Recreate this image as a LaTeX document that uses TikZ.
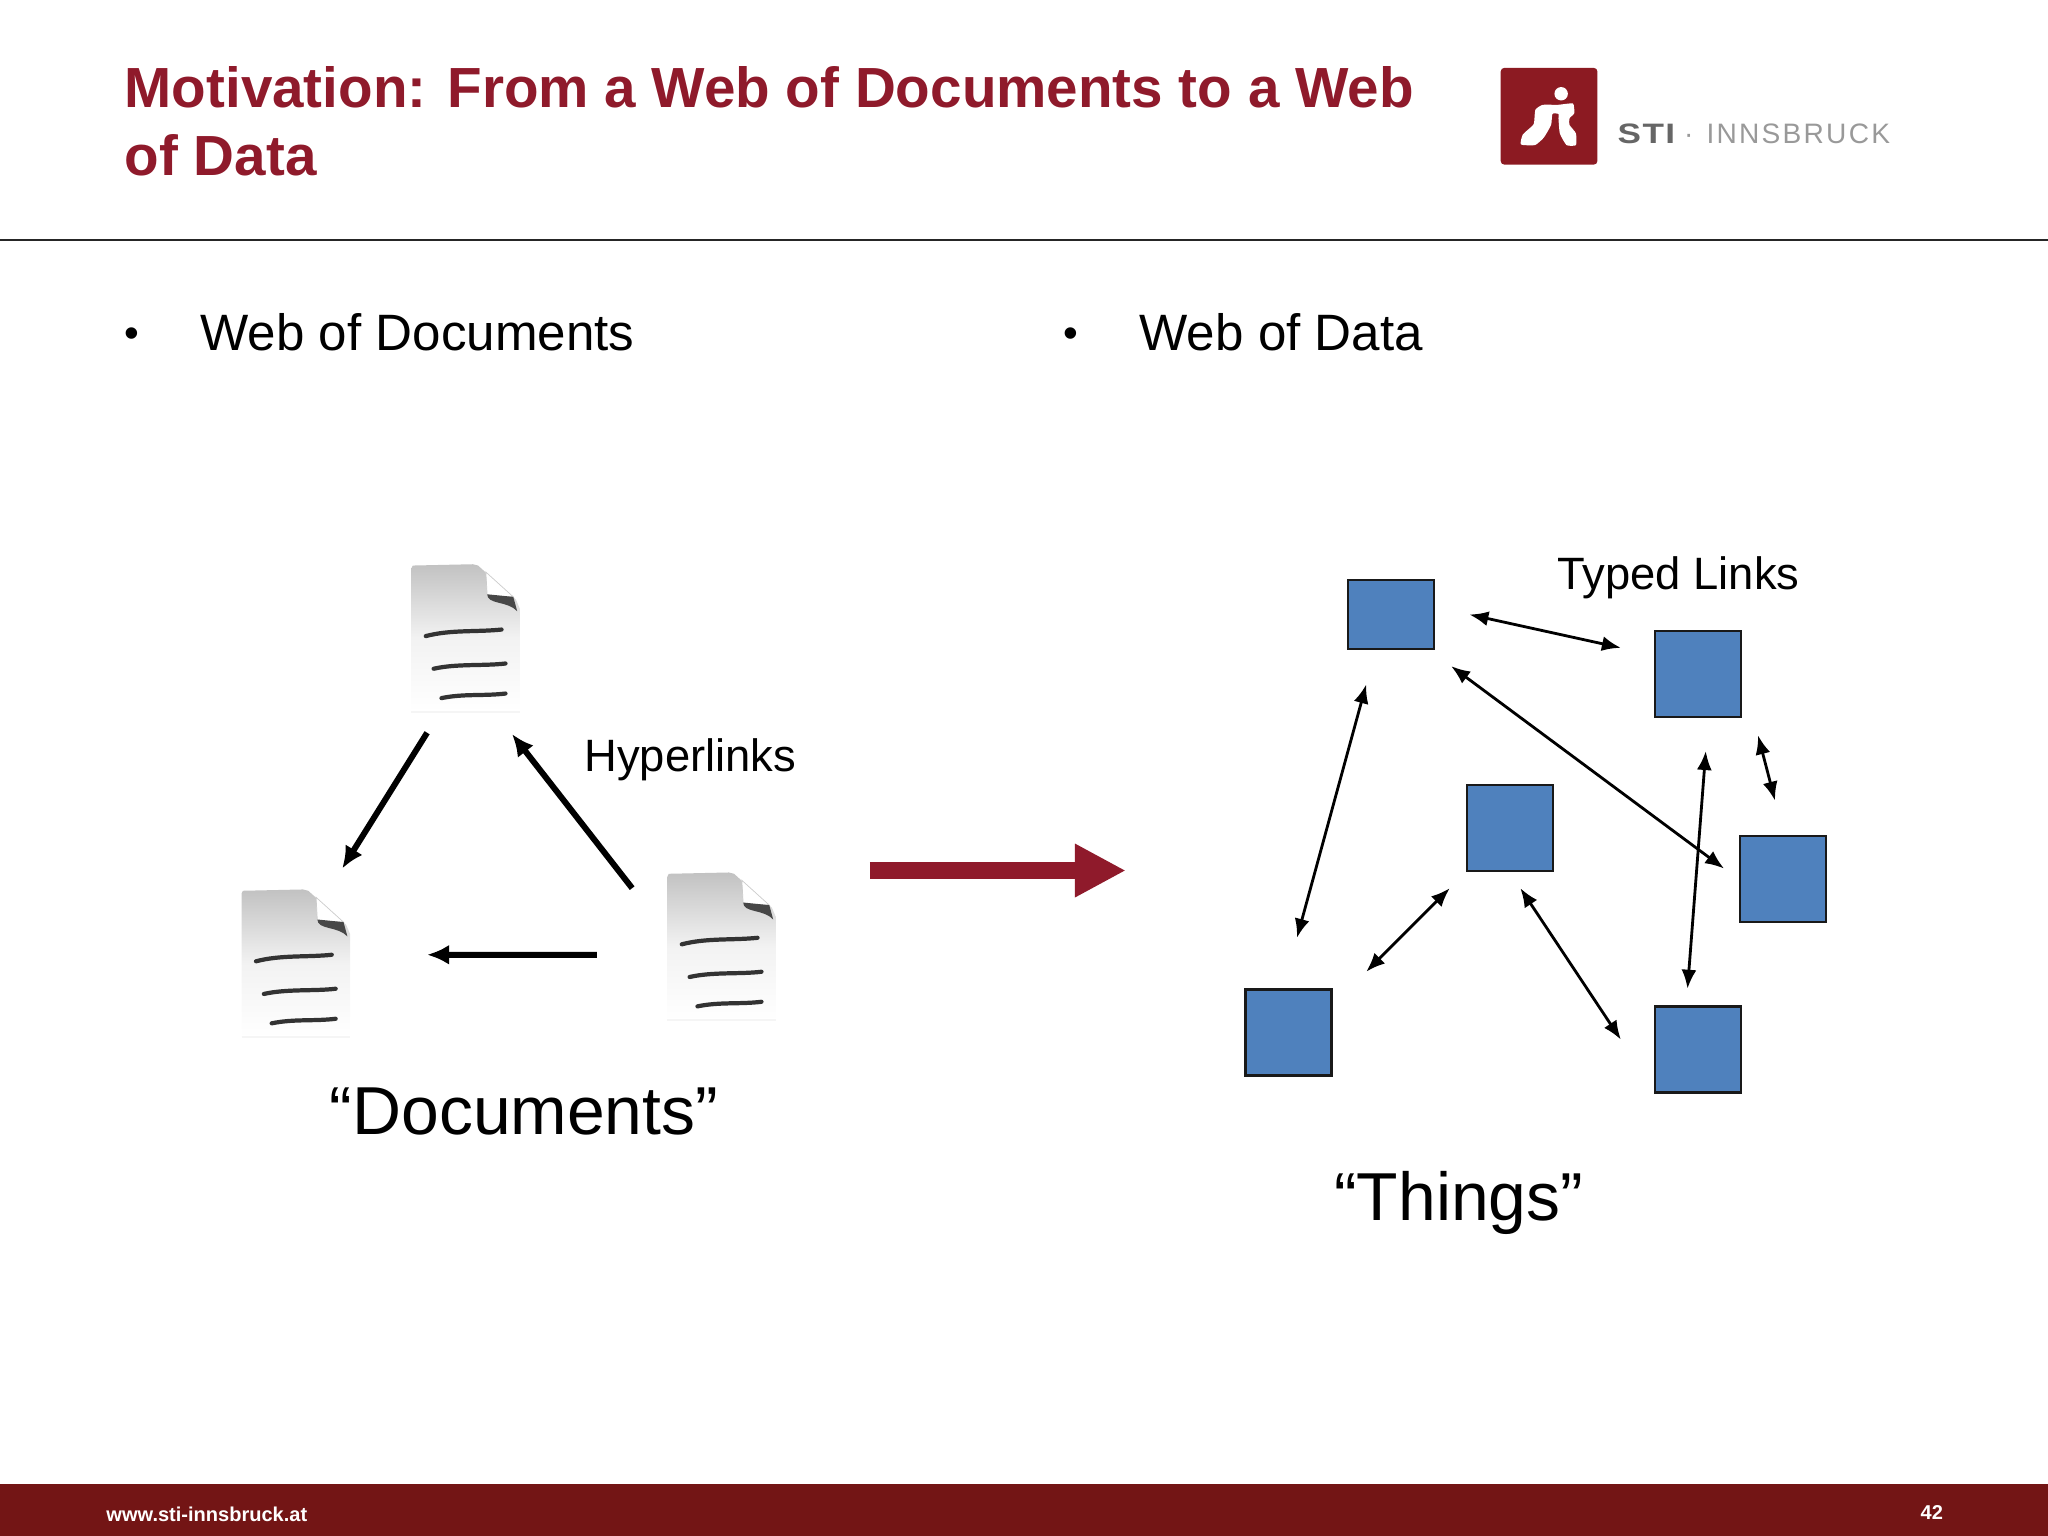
\documentclass[tikz,border=0pt]{standalone}
\usepackage{fontspec}
\setmainfont{Liberation Sans}
\usetikzlibrary{arrows.meta}
\definecolor{stired}{HTML}{8F1A2B}
\definecolor{stilogo}{HTML}{8C1A22}
\definecolor{stibar}{HTML}{731515}
\definecolor{thingblue}{HTML}{4F81BD}
\newcommand\DocIcon[3]{%
    \begin{scope}[shift={(#2,#3)}]
        \node[docbox] (#1) at (41.5,56.5) {};
        \shade[top color=black!24,bottom color=white,middle color=black!5]
            (0,3) -- (1,1) -- (47,0) -- (51,1) -- (80,27) -- (83,34) -- (83,113) -- (0,113) -- cycle;
        \draw[black!4,line width=0.6pt] (0,113) -- (83,113);
        \fill[white,draw=black!20,line width=0.2pt] (57,6) -- (58,24) -- (78,25) -- cycle;
        \fill[black!72] (58,23) .. controls (58,31) and (74,28) .. (81,36) -- (78,25) -- cycle;
        \draw[docink] (11,55) .. controls (30,50) and (50,52) .. (69,50);
        \draw[docink] (17,80) .. controls (35,76) and (55,78) .. (72,76);
        \draw[docink] (23,102.5) .. controls (40,99) and (55,101) .. (72,99);
    \end{scope}
}
\newcommand\Connect[5]{%
    \draw[#1] ([shift={(#3)}]#2.center) -- ([shift={(#5)}]#4.center);
}
\tikzset{
    slidetitle/.style={anchor=north west,align=left,inner sep=0,text=stired,
        font=\fontsize{16.1}{19.4}\selectfont\bfseries},
    bodytext/.style={anchor=base west,inner sep=0,font=\fontsize{14.55}{17}\selectfont},
    bullet/.style={anchor=base,inner sep=0,font=\fontsize{12}{14}\selectfont},
    linklabel/.style={anchor=base west,inner sep=0,font=\fontsize{#1}{16}\selectfont},
    bigquote/.style={anchor=base west,inner sep=0,font=\fontsize{19.3}{23}\selectfont},
    footer/.style={anchor=base west,inner sep=0,text=white,font=\fontsize{5.7}{8}\selectfont\bfseries},
    docbox/.style={inner sep=0,minimum width=1.08cm,minimum height=1.48cm},
    docink/.style={black!80,line width=1.2pt,line cap=round},
    thing/.style={draw=black!90,fill=thingblue,line width=0.6pt,inner sep=0,
        minimum width=0.86cm,minimum height=0.86cm},
    hyperlink/.style={-{Latex[length=0.22cm,width=0.2cm]},line width=1.7pt},
    typedlink/.style={{Latex[length=0.19cm,width=0.15cm]}-{Latex[length=0.19cm,width=0.15cm]},line width=0.8pt},
    bigarrow/.style={-{Triangle[length=0.51cm,width=0.5cm]},stired,line width=4.8pt}
}
\begin{document}
\begin{tikzpicture}[x=0.013061cm,y=-0.013061cm]
    \useasboundingbox (0,0) rectangle (1568,1176);
    % header
    \node[slidetitle] (title) at (95,50) {Motivation: From a Web of Documents to a Web\\of Data};
    \draw[black!85,line width=0.5pt] (0,183.5) -- (1568,183.5);
    \begin{scope}[shift={(1149,52)},x=0.003357cm,y=-0.003357cm] % logo
        \fill[stilogo,rounded corners=1pt] (0,0) rectangle (288,288);
        \fill[white] (180,77) circle (20);
        \fill[white] plot[smooth cycle,tension=0.3] coordinates {(60,228) (66,198) (98,168) (103,125)
            (125,110) (170,110) (215,106) (219,135) (205,150) (205,170) (224,195) (224,230) (196,230)
            (176,195) (172,150) (172,137) (154,137) (150,170) (128,208) (102,230)};
    \end{scope}
    \node[anchor=base west,inner sep=0,text=black!60,font=\fontsize{8}{10}\selectfont\bfseries\addfontfeatures{FakeStretch=1.25,LetterSpace=5}]
        (logoSti) at (1238,110) {STI};
    \node[anchor=base west,inner sep=0,text=black!40,font=\fontsize{8}{10}\selectfont\addfontfeatures{LetterSpace=8}]
        (logoCity) at (1306,110) {INNSBRUCK};
    \node[anchor=base,inner sep=0,text=black!40,font=\fontsize{8}{10}\selectfont] (logoDot) at (1293,110) {·};
    % bullets
    \node[bullet] (bulletDocs) at (101,266) {•};
    \node[bodytext] (webDocs) at (153,268) {Web of Documents};
    \node[bullet] (bulletData) at (820,266) {•};
    \node[bodytext] (webData) at (872,268) {Web of Data};
    % documents
    \DocIcon{docTop}{315}{432}
    \DocIcon{docLeft}{185}{681}
    \DocIcon{docRight}{511}{668}
    \Connect{hyperlink}{docTop}{-29.5,72.5}{docLeft}{35.5,-72.5}
    \Connect{hyperlink}{docRight}{-68.5,-44.5}{docTop}{35.5,73.5}
    \Connect{hyperlink}{docRight}{-95.5,6.5}{docLeft}{100.5,-6.5}
    \node[linklabel=12.9] (hyperlinks) at (447,591) {Hyperlinks};
    \node[bigquote] (documents) at (252,868.5) {“Documents”};
    % middle
    \coordinate (flowStart) at (666,666.5);
    \coordinate (flowEnd) at (862,666.5);
    \draw[bigarrow] (flowStart) -- (flowEnd);
    % things
    \node[thing,minimum height=0.69cm] (s1) at (1065,470.5) {};
    \node[thing] (s2) at (1300,516) {};
    \node[thing] (s3) at (1156,634) {};
    \node[thing] (s4) at (1365,673) {};
    \node[thing] (s5) at (986.5,790.5) {};
    \node[thing] (s6) at (1300,803.5) {};
    \Connect{typedlink}{s1}{60,0}{s2}{-59,-20}
    \Connect{typedlink}{s1}{46,39.5}{s4}{-45,-8}
    \Connect{typedlink}{s1}{-19,53.5}{s5}{6.5,-72.5}
    \Connect{typedlink}{s2}{46,47}{s4}{-6,-60}
    \Connect{typedlink}{s2}{6,59}{s6}{-8,-46.5}
    \Connect{typedlink}{s3}{-46,46}{s5}{59.5,-46.5}
    \Connect{typedlink}{s3}{8,46}{s6}{-59,-7.5}
    \node[linklabel=12.9] (typedLinks) at (1192,451) {Typed Links};
    \node[bigquote] (things) at (1021,934.5) {“Things”};
    % footer
    \fill[stibar] (0,1136) rectangle (1568,1176);
    \node[footer] (url) at (81,1165) {www.sti-innsbruck.at};
    \node[footer] (pageNo) at (1470,1163) {42};
\end{tikzpicture}
\end{document}
